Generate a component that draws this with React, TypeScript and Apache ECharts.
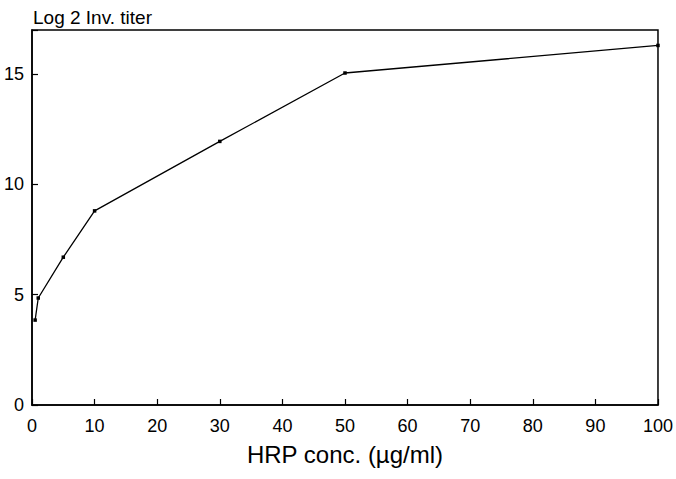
import React, { useEffect, useRef } from "react";
import * as echarts from "echarts";

const concentrations = [0.5, 1, 5, 10, 30, 50, 100];
const titers = [3.85, 4.85, 6.7, 8.8, 11.95, 15.05, 16.3];
const xTicks = [0, 10, 20, 30, 40, 50, 60, 70, 80, 90, 100];
const yTicks = [0, 5, 10, 15];

export default function App() {
  const ref = useRef<HTMLDivElement>(null);
  useEffect(() => {
    if (!ref.current) return;
    const chart = echarts.init(ref.current, null, { renderer: "svg" });
    const font = "Liberation Sans";
    chart.setOption({
      animation: false,
      backgroundColor: "#ffffff",
      title: {
        text: "Log 2 Inv. titer",
        left: 28,
        top: 3,
        textStyle: { fontFamily: font, fontSize: 19, fontWeight: "normal", color: "#000" },
      },
      grid: {
        left: 32,
        right: 15,
        top: 30,
        bottom: 74,
        show: true,
        borderColor: "#000",
        borderWidth: 1.5,
        backgroundColor: "transparent",
      },
      xAxis: {
        type: "value",
        min: xTicks[0],
        max: xTicks[xTicks.length - 1],
        interval: 10,
        name: "HRP conc. (µg/ml)",
        nameLocation: "middle",
        nameGap: 37,
        nameTextStyle: { fontFamily: font, fontSize: 24, color: "#000" },
        axisLine: { show: true, lineStyle: { color: "#000", width: 1.5 } },
        axisTick: { show: true, inside: true, length: 6, lineStyle: { color: "#000", width: 1.2 } },
        axisLabel: { fontFamily: font, fontSize: 18, color: "#000", margin: 12 },
        splitLine: { show: false },
      },
      yAxis: {
        type: "value",
        min: yTicks[0],
        max: 17,
        interval: 5,
        axisLine: { show: true, lineStyle: { color: "#000", width: 1.5 } },
        axisTick: { show: true, inside: true, length: 6, lineStyle: { color: "#000", width: 1.2 } },
        axisLabel: {
          fontFamily: font,
          fontSize: 18,
          color: "#000",
          margin: 8,
          formatter: (v: number) => (yTicks.includes(v) ? String(v) : ""),
        },
        splitLine: { show: false },
      },
      series: [
        {
          type: "line",
          data: concentrations.map((c, i) => [c, titers[i]]),
          symbol: "rect",
          symbolSize: 3.5,
          lineStyle: { color: "#000", width: 1.3 },
          itemStyle: { color: "#000" },
        },
      ],
    });
    return () => chart.dispose();
  }, []);
  return <div ref={ref} style={{ width: 676, height: 479, position: "absolute", left: 0, top: 0 }} />;
}
